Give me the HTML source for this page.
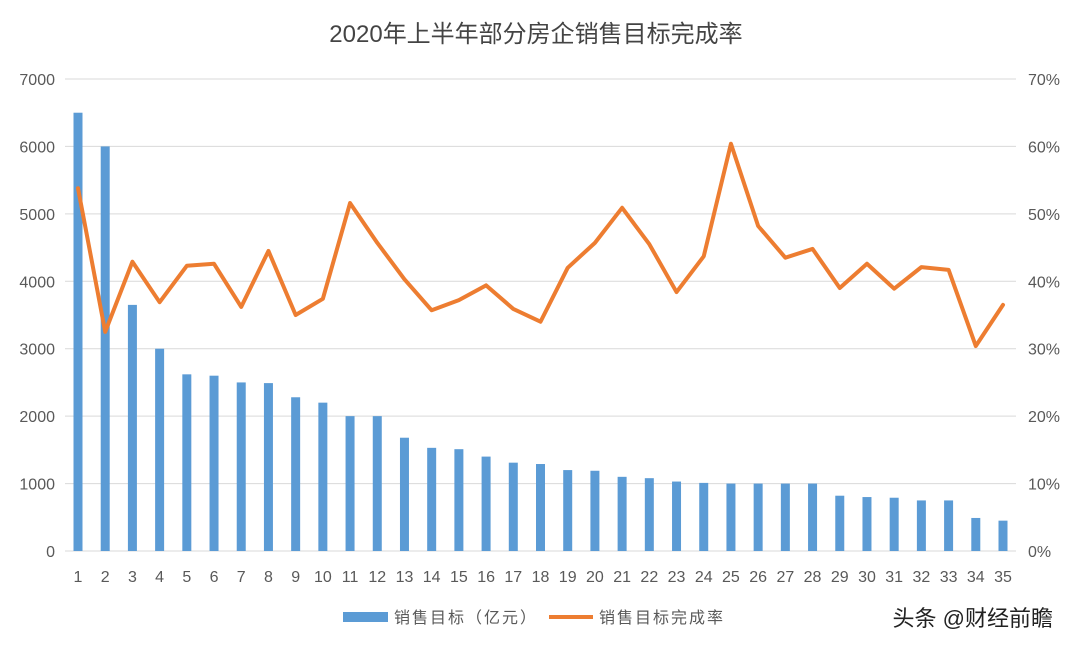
<!DOCTYPE html>
<html><head><meta charset="utf-8">
<style>
body{margin:0;background:#fff;width:1072px;height:649px;overflow:hidden;font-family:"Liberation Sans","Noto Sans CJK SC",sans-serif;}
</style></head>
<body>
<svg id="c" width="1072" height="649" xmlns="http://www.w3.org/2000/svg"></svg>
<script>
const categories=[];for(let i=1;i<=35;i++)categories.push(String(i));
const barValues=[6500,6000,3650,3000,2620,2600,2500,2490,2280,2200,2000,2000,1680,1530,1510,1400,1310,1290,1200,1190,1100,1080,1030,1010,1000,1000,1000,1000,820,800,790,750,750,490,450];
const rateValues=[53.8,32.5,42.9,36.9,42.3,42.6,36.2,44.5,35.0,37.4,51.6,45.7,40.3,35.7,37.2,39.4,35.9,34.0,42.0,45.7,50.9,45.5,38.4,43.7,60.4,48.2,43.5,44.8,39.0,42.6,38.9,42.1,41.7,30.4,36.5];
const leftTicks=[0,1000,2000,3000,4000,5000,6000,7000];
const rightTicks=[0,10,20,30,40,50,60,70];

const svg=document.getElementById('c');const NS='http://www.w3.org/2000/svg';
function mk(t,a,txt){const e=document.createElementNS(NS,t);for(const k in a)e.setAttribute(k,a[k]);if(txt!==undefined)e.textContent=txt;svg.appendChild(e);return e;}
const y0=551,y1=79;
const yL=v=>y0-(v/7000)*(y0-y1);
const yR=v=>y0-(v/70)*(y0-y1);
const xC=i=>78+i*(1003-78)/34;

let t=mk('text',{x:536,y:42,'text-anchor':'middle','font-size':24,fill:'#444'},'2020年上半年部分房企销售目标完成率');


leftTicks.forEach((v,i)=>{
 let g=mk('line',{x1:65,x2:1016,y1:yL(v),y2:yL(v),stroke:'#d9d9d9','stroke-width':1});
 
 let l=mk('text',{x:55,y:yL(v)+6,'text-anchor':'end','font-size':16,fill:'#595959'},String(v));
 
 let r=mk('text',{x:1028,y:yR(rightTicks[i])+6,'text-anchor':'start','font-size':16,fill:'#595959'},rightTicks[i]+'%');
 
});
categories.forEach((c,i)=>{
 let b=mk('rect',{x:xC(i)-4.5,y:yL(barValues[i]),width:9,height:y0-yL(barValues[i]),fill:'#5b9bd5'});
 
 let l=mk('text',{x:xC(i),y:582,'text-anchor':'middle','font-size':16,fill:'#595959'},c);
 
});
let pts=rateValues.map((v,i)=>xC(i)+','+yR(v)).join(' ');
let pl=mk('polyline',{points:pts,fill:'none',stroke:'#ed7d31','stroke-width':4,'stroke-linejoin':'round','stroke-linecap':'round'});


let lb=mk('rect',{x:343,y:612,width:45,height:10,fill:'#5b9bd5'});

let lt=mk('text',{x:394,y:623,'font-size':16,fill:'#595959','letter-spacing':2},'销售目标（亿元）');

let ll=mk('line',{x1:549,x2:593,y1:617,y2:617,stroke:'#ed7d31','stroke-width':4});

let lt2=mk('text',{x:599,y:623,'font-size':16,fill:'#595959','letter-spacing':2},'销售目标完成率');

let w=mk('text',{x:1053,y:626,'text-anchor':'end','font-size':22,fill:'#222'},'头条 @财经前瞻');

</script>
</body></html>
